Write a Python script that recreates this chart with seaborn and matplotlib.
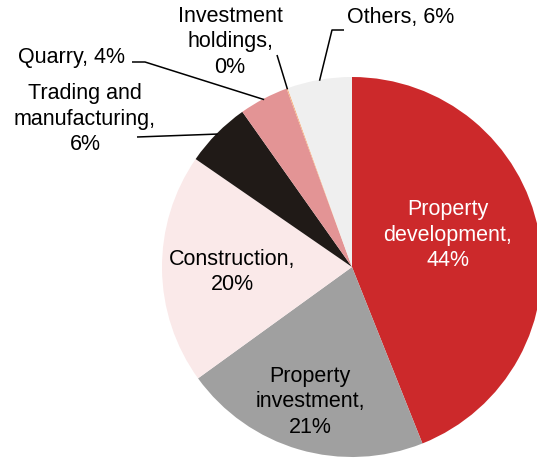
import numpy as np
import matplotlib
matplotlib.use("Agg")
import matplotlib.pyplot as plt
import seaborn as sns

# Segment data (clockwise from 12 o'clock)
segments = ["Property development", "Property investment", "Construction",
            "Trading and manufacturing", "Quarry", "Investment holdings", "Others"]
shares = [44.0, 21.1, 19.6, 5.6, 4.2, 0.1, 5.5]
shown_pct = [44, 21, 20, 6, 4, 0, 6]
label_text = ["Property\ndevelopment,\n44%",
              "Property\ninvestment,\n21%",
              "Construction,\n20%",
              "Trading and\nmanufacturing,\n6%",
              "Quarry, 4%",
              "Investment\nholdings,\n0%",
              "Others, 6%"]
colors = ["#CC292B", "#A0A0A0", "#FAE9E9", "#201A17", "#E39495", "#F4B183", "#EFEFEF"]

sns.set_theme(style="white")
plt.rcParams['font.family'] = ['Liberation Sans', 'DejaVu Sans']

W, H = 537, 459
fig = plt.figure(figsize=(W / 100, H / 100), dpi=100)
ax = fig.add_axes([0, 0, 1, 1])

# work in pixel coordinates (y measured from top)
cx, cy, r = 352, 267, 190
wedges, _ = ax.pie(shares, colors=colors, startangle=90, counterclock=False,
                   center=(cx, H - cy), radius=r,
                   wedgeprops=dict(linewidth=0))
ax.set_xlim(0, W)
ax.set_ylim(0, H)
ax.set_aspect("equal")
ax.axis("off")

# label placement: (x, y) in image pixels, text colour
label_pos = [(448, 235, "white"), (310, 402, "black"), (232, 272, "black"),
             (85, 119, "black"), (71, 58, "black"), (230, 42, "black"),
             (401, 18, "black")]
for txt, (tx, ty, tc) in zip(label_text, label_pos):
    ax.text(tx, H - ty, txt, ha="center", va="center", fontsize=15.5,
            color=tc, linespacing=1.28)

# leader lines: start point and optional elbow (image pixels), anchor from wedge angle
leaders = {3: [(137, 137)],
           4: [(132, 62), (145, 62)],
           5: [(277, 55)],
           6: [(344, 30), (332, 30)]}
for i, pts in leaders.items():
    w = wedges[i]
    mid = np.deg2rad((w.theta1 + w.theta2) / 2)
    ax_x = cx + 0.995 * r * np.cos(mid)
    ax_y = (H - cy) + 0.995 * r * np.sin(mid)
    xs = [p[0] for p in pts] + [ax_x]
    ys = [H - p[1] for p in pts] + [ax_y]
    ax.plot(xs, ys, color="black", lw=1.1, solid_capstyle="butt")

plt.savefig("out.png", dpi=100)
